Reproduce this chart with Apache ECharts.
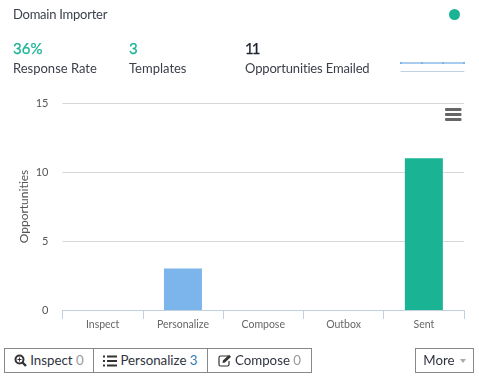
<!DOCTYPE html>
<html><head><meta charset="utf-8">
<style>
html,body{margin:0;padding:0;background:#fff;overflow:hidden}
body{width:479px;height:388px;position:relative;font-family:Lato,"Open Sans",sans-serif;color:#333}
#chart{position:absolute;left:0;top:0;width:479px;height:388px}
.t{position:absolute;white-space:nowrap;font-size:13px;line-height:16px;color:#3a3f4a}
.n{font-size:15px;line-height:18px;color:#1ab394;-webkit-text-stroke:0.25px currentColor}
.btn{position:absolute;top:348px;height:25px;box-sizing:border-box;border:1px solid #888;background:#fff;font-size:13.3px;line-height:23px;color:#2f3440;white-space:nowrap;display:flex;align-items:center;justify-content:center;gap:3px}
.btn b{font-weight:400;color:#999}.btn b.c{color:#337ab7}
svg{display:block}
</style></head><body>
<div id="chart"></div>
<div class="t" style="left:13px;top:6px;letter-spacing:-0.25px">Domain Importer</div>
<div style="position:absolute;left:449px;top:9px;width:11px;height:11px;border-radius:50%;background:#1ab394"></div>
<div class="t n" id="s0" style="left:13px;top:39px"></div><div class="t" id="l0" style="left:13px;top:60px"></div>
<div class="t n" id="s1" style="left:129px;top:39px"></div><div class="t" id="l1" style="left:129px;top:60px"></div>
<div class="t n" id="s2" style="left:245px;top:39px;color:#1c2330;letter-spacing:-2px"></div><div class="t" id="l2" style="left:245px;top:60px;letter-spacing:-0.15px"></div>
<div class="btn" style="left:4px;width:90px"><svg width="13" height="13" viewBox="0 0 13 13"><circle cx="5.5" cy="5.5" r="4" fill="none" stroke="#333" stroke-width="2"/><path d="M8.5 8.5L12 12" stroke="#333" stroke-width="2.4"/><path d="M3.5 5.5h4M5.5 3.5v4" stroke="#333"/></svg><span>Inspect <b>0</b></span></div>
<div class="btn" style="left:93px;width:115px"><svg width="14" height="12" viewBox="0 0 14 12"><path d="M0 1.5h2M4 1.5h10M0 6h2M4 6h10M0 10.500h2M4 10.500h10" stroke="#333" stroke-width="2.200"/></svg><span>Personalize <b class="c">3</b></span></div>
<div class="btn" style="left:207px;width:105px"><svg width="14" height="13" viewBox="0 0 14 13"><path d="M10 2H2.500A1.500 1.500 0 0 0 1 3.500v7A1.500 1.500 0 0 0 2.500 12h7a1.500 1.500 0 0 0 1.500-1.500V7" fill="none" stroke="#333" stroke-width="1.200"/><path d="M5 6.500L11 .8l2 2L7 8.500l-2.500.5z" fill="#333"/></svg><span>Compose <b>0</b></span></div>
<div class="btn" style="left:415px;width:59px">More <span style="display:inline-block;width:0;height:0;border-left:3.500px solid transparent;border-right:3.500px solid transparent;border-top:4px solid #aaa;margin-left:2px"></span></div>
<script src="https://cdn.jsdelivr.net/npm/echarts@6/dist/echarts.min.js"></script>
<script>
const categories = ["Inspect", "Personalize", "Compose", "Outbox", "Sent"];
const opportunities = [0, 3, 0, 0, 11];
const yTicks = [0, 5, 10, 15];
const statValues = ["36%", "3", "11"];
const statLabels = ["Response Rate", "Templates", "Opportunities Emailed"];
const sparkCategories = ["a", "b", "c", "d"];
const sparkValues = [0, 0, 0, 0];

statValues.forEach((v, i) => { document.getElementById("s" + i).textContent = v; });
statLabels.forEach((v, i) => { document.getElementById("l" + i).textContent = v; });

const chart = echarts.init(document.getElementById("chart"), null, {renderer: "canvas"});
chart.setOption({
  animation: false,
  textStyle: {fontFamily: "Lato, 'Open Sans', sans-serif"},
  grid: [
    {left: 62.5, right: 15, top: 103, bottom: 78, containLabel: false},
    {left: 401, right: 15, top: 54.5, bottom: 316.5}
  ],
  xAxis: [
    {type: "category", data: categories, gridIndex: 0, boundaryGap: true,
      axisLine: {lineStyle: {color: "#c0d0e0", width: 1}},
      axisTick: {show: true, length: 9, alignWithLabel: false, lineStyle: {color: "#c0d0e0"}},
      axisLabel: {color: "#666", fontSize: 10.5, margin: 9, interval: 0},
      splitLine: {show: false}},
    {type: "category", data: sparkCategories, gridIndex: 1, boundaryGap: false,
      axisLine: {onZero: false, lineStyle: {color: "#c0d0e0", width: 1}},
      axisTick: {show: false}, axisLabel: {show: false}, splitLine: {show: false}}
  ],
  yAxis: [
    {type: "value", gridIndex: 0, min: yTicks[0], max: yTicks[yTicks.length - 1], interval: yTicks[1] - yTicks[0],
      name: "Opportunities", nameLocation: "middle", nameGap: 32, nameRotate: 90, nameMoveOverlap: false,
      nameTextStyle: {color: "#555", fontSize: 12},
      axisLine: {show: false}, axisTick: {show: false},
      axisLabel: {color: "#555", fontSize: 11, margin: 14},
      splitLine: {show: true, lineStyle: {color: "#d8d8d8", width: 1}}},
    {type: "value", gridIndex: 1, min: -1, max: 1, show: false, splitLine: {show: false}}
  ],
  series: [
    {type: "bar", xAxisIndex: 0, yAxisIndex: 0, data: opportunities, barWidth: 38,
      itemStyle: {color: p => p.dataIndex === 4 ? "#1ab394" : "#7cb5ec"}},
    {type: "line", xAxisIndex: 1, yAxisIndex: 1, data: sparkValues,
      symbol: "rect", symbolSize: 2, showSymbol: true,
      itemStyle: {color: "#7cb5ec"},
      lineStyle: {color: "#a9cdf0", width: 2}}
  ],
  graphic: [0, 5, 10].map(o => ({
    type: "rect", shape: {x: 445, y: 108 + o, width: 16.5, height: 3, r: 1},
    style: {fill: "#666"}, z: 10
  }))
});
</script>
</body></html>
